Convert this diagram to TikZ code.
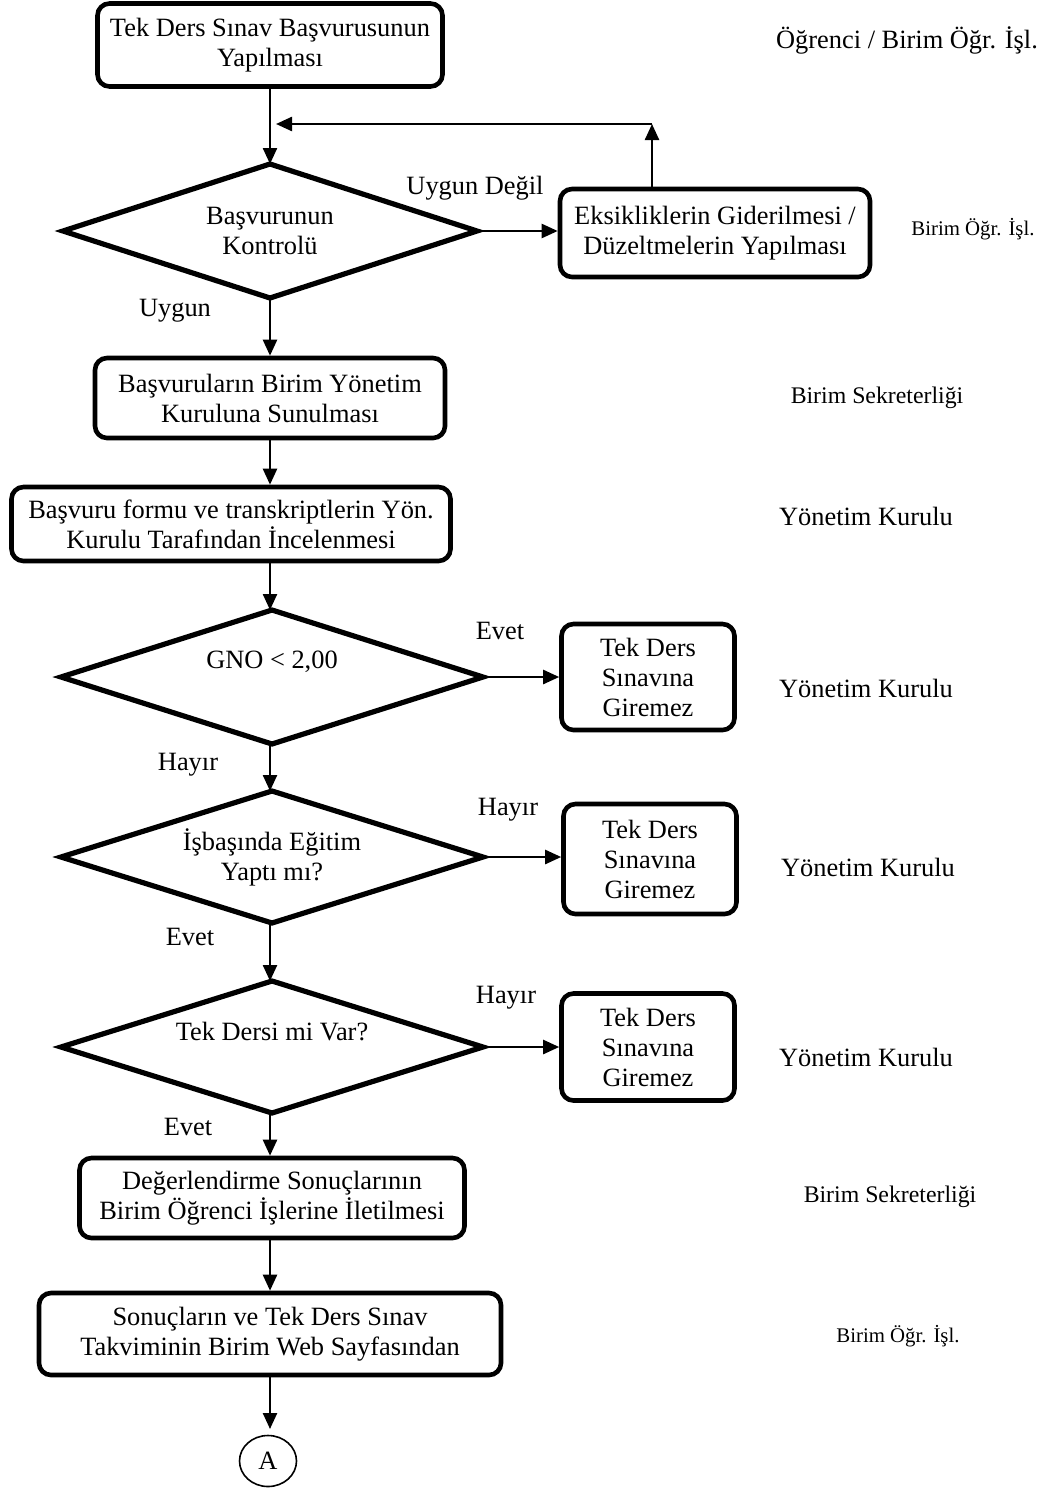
\documentclass[tikz,border=0pt]{standalone}
\usepackage{fontspec}
\setmainfont{Liberation Serif}
\usetikzlibrary{arrows.meta,shapes.geometric}
\begin{document}
\begin{tikzpicture}[x=0.5pt,y=-0.5pt,
  every node/.style={font=\fontsize{13.2}{15}\selectfont},
  procbox/.style={draw,line width=2.3pt,rounded corners=6pt,align=center,inner sep=0pt},
  decis/.style={draw,diamond,line width=2.6pt,inner sep=0pt,outer sep=0pt},
  dtext/.style={align=center,inner sep=0pt},
  arr/.style={line width=1.2pt,-{Triangle[length=8pt,width=7pt]}},
  lbl/.style={inner sep=0pt},
  small/.style={inner sep=0pt,font=\fontsize{10.4}{12}\selectfont},
  mid/.style={inner sep=0pt,font=\fontsize{11.9}{14}\selectfont}]
\useasboundingbox[fill=white] (0,0) rectangle (1056,1488);

% main column
\node[procbox,minimum width=172.5pt,minimum height=41.5pt] (b1) at (270,45) {Tek Ders Sınav Başvurusunun\\Yapılması};
\node[decis,minimum width=207pt,minimum height=67pt] (d1) at (270,231) {};
\node[dtext] (d1t) at (d1.center) {Başvurunun\\Kontrolü};
\node[procbox,minimum width=155pt,minimum height=44pt] (eks) at (715,233) {Eksikliklerin Giderilmesi /\\Düzeltmelerin Yapılması};
\node[procbox,minimum width=175pt,minimum height=40pt] (b2) at (270,398) {Başvuruların Birim Yönetim\\Kuruluna Sunulması};
\node[procbox,minimum width=219.5pt,minimum height=37pt] (b3) at (231,524) {Başvuru formu ve transkriptlerin Yön.\\Kurulu Tarafından İncelenmesi};
\node[decis,minimum width=211pt,minimum height=67pt] (d2) at (272,677) {};
\node[dtext] (d2t) at ([yshift=7.5pt]d2.center) {GNO < 2,00};
\node[procbox,minimum width=86.5pt,minimum height=53pt] (t1) at (648,677) {Tek Ders\\Sınavına\\Giremez};
\node[decis,minimum width=211pt,minimum height=66pt] (d3) at (272,857) {};
\node[dtext] (d3t) at (d3.center) {İşbaşında Eğitim\\Yaptı mı?};
\node[procbox,minimum width=86.5pt,minimum height=55pt] (t2) at (650,859) {Tek Ders\\Sınavına\\Giremez};
\node[decis,minimum width=211pt,minimum height=66pt] (d4) at (272,1047) {};
\node[dtext] (d4t) at ([yshift=7.5pt]d4.center) {Tek Dersi mi Var?};
\node[procbox,minimum width=86.5pt,minimum height=53.5pt] (t3) at (648,1047) {Tek Ders\\Sınavına\\Giremez};
\node[procbox,minimum width=192.5pt,minimum height=40pt] (bd) at (272,1198) {Değerlendirme Sonuçlarının\\Birim Öğrenci İşlerine İletilmesi};
\node[procbox,minimum width=231pt,minimum height=41pt] (bs) at (270,1334) {Sonuçların ve Tek Ders Sınav\\Takviminin Birim Web Sayfasından};
\node[draw,ellipse,line width=0.8pt,minimum width=28.5pt,minimum height=25.5pt,inner sep=0pt] (ca) at (268,1461) {A};
\coordinate (aend) at (270,1429);

% connectors
\draw[arr] (b1.south) -- (b1.south |- d1.north);
\draw[arr] (d1.east) -- (d1.east -| eks.west);
\coordinate (fbt) at (652,124);
\coordinate (fbe) at (276,124);
\draw[arr] (eks.north -| fbt) -- (fbt);
\draw[arr] (fbt) -- (fbe);
\draw[arr] (d1.south) -- (d1.south |- b2.north);
\draw[arr] (b2.south) -- (b2.south |- b3.north);
\draw[arr] (b3.south -| b2.south) -- (b2.south |- d2.north);
\draw[arr] (d2.east) -- (t1.west);
\draw[arr] (d2.south -| b2.south) -- (b2.south |- d3.north);
\draw[arr] (d3.east) -- (d3.east -| t2.west);
\draw[arr] (d3.south -| b2.south) -- (b2.south |- d4.north);
\draw[arr] (d4.east) -- (t3.west);
\draw[arr] (d4.south -| b2.south) -- (b2.south |- bd.north);
\draw[arr] (bd.south -| b2.south) -- (b2.south |- bs.north);
\draw[arr] (bs.south -| aend) -- (aend);

% branch labels
\node[lbl] (l1) at (475,188) {Uygun Değil};
\node[lbl] (l2) at (175,311) {Uygun};
\node[lbl] (l3) at (500,631) {Evet};
\node[lbl] (l4) at (188,765) {Hayır};
\node[lbl] (l5) at (508,810) {Hayır};
\node[lbl] (l6) at (190,937) {Evet};
\node[lbl] (l7) at (506,998) {Hayır};
\node[lbl] (l8) at (188,1127) {Evet};

% responsibility labels
\node[lbl] (r1) at (907,40) {Öğrenci / Birim Öğr. İşl.};
\node[small] (r2) at (973,229) {Birim Öğr. İşl.};
\node[mid] (r3) at (877,398) {Birim Sekreterliği};
\node[lbl] (r4) at (866,516) {Yönetim Kurulu};
\node[lbl] (r5) at (866,688) {Yönetim Kurulu};
\node[lbl] (r6) at (868,867) {Yönetim Kurulu};
\node[lbl] (r7) at (866,1057) {Yönetim Kurulu};
\node[mid] (r8) at (890,1197) {Birim Sekreterliği};
\node[small] (r9) at (898,1336) {Birim Öğr. İşl.};
\end{tikzpicture}
\end{document}
